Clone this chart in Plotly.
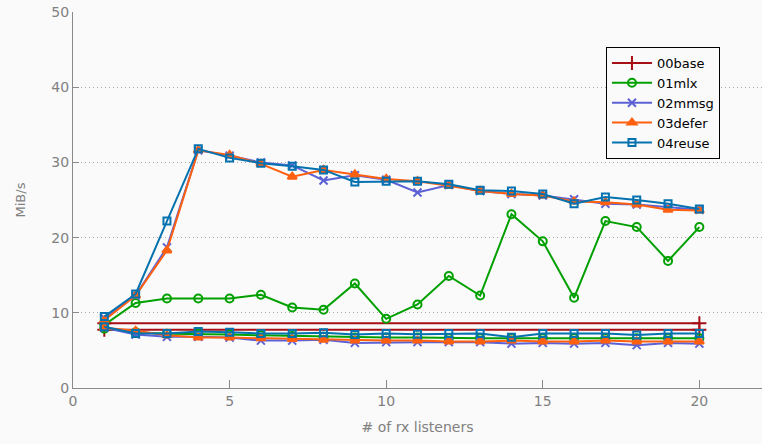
import plotly.graph_objects as go

x = list(range(1, 21))
base_x = [1, 20]
base_a = [8.6, 8.6]
base_b = [7.75, 7.75]

mlx_a = [8.4, 11.3, 11.9, 11.9, 11.9, 12.4, 10.7, 10.4, 13.9, 9.2, 11.1, 14.9, 12.3, 23.1, 19.5, 12.0, 22.2, 21.4, 16.9, 21.4]
mlx_b = [7.9, 7.4, 7.2, 7.2, 7.1, 7.0, 6.9, 6.8, 6.7, 6.7, 6.7, 6.6, 6.6, 6.6, 6.6, 6.6, 6.6, 6.6, 6.6, 6.6]

mmsg_a = [9.3, 12.3, 18.7, 31.6, 30.9, 30.0, 29.6, 27.6, 28.3, 27.7, 26.0, 27.0, 26.2, 25.8, 25.6, 25.1, 24.5, 24.4, 24.0, 23.7]
mmsg_b = [8.0, 7.1, 6.8, 6.8, 6.7, 6.3, 6.3, 6.4, 6.0, 6.1, 6.1, 6.1, 6.1, 5.9, 6.0, 5.9, 6.0, 5.7, 6.0, 5.9]

defer_a = [9.0, 12.3, 18.3, 31.6, 31.0, 29.8, 28.1, 29.0, 28.4, 27.8, 27.5, 26.9, 26.2, 25.8, 25.6, 24.8, 24.7, 24.4, 23.7, 23.6]
defer_b = [8.0, 7.6, 7.0, 6.7, 6.7, 6.6, 6.5, 6.4, 6.3, 6.3, 6.3, 6.2, 6.2, 6.3, 6.2, 6.2, 6.3, 6.2, 6.2, 6.2]

reuse_a = [9.5, 12.5, 22.2, 31.8, 30.6, 29.9, 29.5, 29.0, 27.4, 27.5, 27.5, 27.1, 26.3, 26.2, 25.8, 24.5, 25.4, 25.0, 24.5, 23.8]
reuse_b = [8.15, 7.25, 7.25, 7.5, 7.4, 7.25, 7.25, 7.35, 7.1, 7.25, 7.15, 7.25, 7.25, 6.75, 7.25, 7.25, 7.25, 7.05, 7.25, 7.25]

series = [
    ("00base", base_x, base_a, base_b, "#a50f15", "cross-thin", 10),
    ("01mlx", x, mlx_a, mlx_b, "#00a000", "circle-open", 8),
    ("02mmsg", x, mmsg_a, mmsg_b, "#5c62d6", "x-thin", 8),
    ("03defer", x, defer_a, defer_b, "#ff6010", "triangle-up", 8),
    ("04reuse", x, reuse_a, reuse_b, "#0572b0", "square-open", 7),
]

fig = go.Figure()
for name, xs, ya, yb, col, sym, sz in series:
    for i, ys in enumerate((ya, yb)):
        fig.add_trace(go.Scatter(
            x=xs, y=ys, mode="lines+markers", name=name,
            legendgroup=name, showlegend=(i == 0),
            line=dict(color=col, width=2),
            marker=dict(symbol=sym, size=sz, color=col,
                        line=dict(color=col, width=2)),
        ))

bg = "#fafafa"
axis_col = "#8a8a8a"
fig.update_layout(
    width=762, height=444,
    margin=dict(l=73, r=0, t=12, b=56),
    paper_bgcolor=bg, plot_bgcolor=bg,
    font=dict(family="DejaVu Sans", size=14, color="#808080"),
    legend=dict(
        x=0.939, y=0.907, xanchor="right", yanchor="top",
        bgcolor=bg, bordercolor="#000000", borderwidth=1,
        font=dict(size=13, color="#000000"),
        tracegroupgap=0, itemwidth=40,
    ),
    xaxis=dict(
        range=[0, 22], tickvals=[0, 5, 10, 15, 20],
        showgrid=False, zeroline=False,
        showline=True, linecolor=axis_col, linewidth=1,
        ticks="inside", ticklen=8, tickcolor=axis_col,
        title=dict(text="# of rx listeners", font=dict(size=14, color="#808080"), standoff=14),
    ),
    yaxis=dict(
        range=[0, 50], tickvals=[0, 10, 20, 30, 40, 50],
        showgrid=True, gridcolor="#a8a8a8", griddash="1px,3px", gridwidth=1,
        zeroline=False,
        showline=True, linecolor=axis_col, linewidth=1,
        ticks="inside", ticklen=6, tickcolor=axis_col,
        title=dict(text="MiB/s", font=dict(size=13, color="#808080"), standoff=22),
    ),
)

fig.write_html("out.html")
